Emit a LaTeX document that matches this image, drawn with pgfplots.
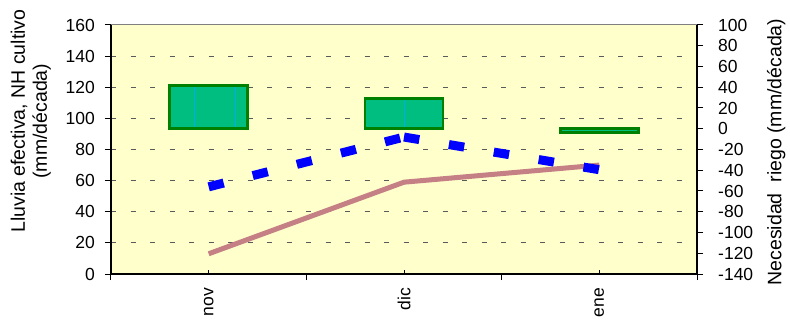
\documentclass[border=0pt]{standalone}
\usepackage{fontspec}
\setmainfont{Liberation Sans}
\usepackage{pgfplots}
\pgfplotsset{compat=1.18}
\definecolor{bgyellow}{RGB}{255,255,204}
\definecolor{barfill}{RGB}{0,190,128}
\definecolor{barborder}{RGB}{0,128,0}
\definecolor{rosy}{RGB}{196,128,132}
\definecolor{gridgray}{RGB}{90,90,90}
\newcommand{\fs}{\fontsize{17.5bp}{21.5bp}\selectfont}
\newcommand{\fl}{\fontsize{19.5bp}{22bp}\selectfont}
\begin{document}
\begin{tikzpicture}
\pgfplotsset{
  base/.style={scale only axis, width=586bp, height=249bp, xmin=-0.5, xmax=2.5,
    /pgf/number format/assume math mode=true,
    tick label style={font=\fs}, label style={font=\fl}},
}
% background, grid, frame
\begin{axis}[base, ymin=0, ymax=160, axis background/.style={fill=bgyellow},
  xtick=\empty, ytick={20,40,...,140}, yticklabels={}, major tick length=0pt,
  ymajorgrids, grid style={gridgray, line width=1.1bp, dash pattern=on 5bp off 14.5bp},
  axis line style={draw=gray, line width=1bp}]
\end{axis}
% right axis with bars
\begin{axis}[base, ymin=-140, ymax=100, axis y line*=right, axis x line=none,
  xtick=\empty, ytick={-140,-120,...,100}, tick align=outside, major tick length=6bp,
  axis line style={black, line width=1.2bp}, tick style={black, line width=1bp},
  yticklabel style={anchor=west, inner sep=0pt}, yticklabel shift=15bp,
  ylabel={Necesidad\ \ riego (mm/década)},
  ylabel style={at={(axis description cs:1.135,0.49)}, anchor=center}]
\addplot[ybar, bar width=0.4, fill=barfill, draw=none] coordinates {(0,42) (1,29) (2,-4)};
\addplot[cyan, line width=0.8bp] coordinates {(-0.075,0) (-0.075,42)};
\addplot[cyan, line width=0.8bp] coordinates {(0.135,0) (0.135,42)};
\addplot[cyan, line width=0.8bp] coordinates {(1,0) (1,29)};
\addplot[cyan, line width=0.8bp] coordinates {(1.865,0) (1.865,-4)};
\addplot[cyan, line width=0.8bp] coordinates {(2.075,0) (2.075,-4)};
\addplot[ybar, bar width=0.4, fill=none, draw=barborder, line width=2.8bp] coordinates {(0,42) (1,29) (2,-4)};
\end{axis}
% left axis with lines
\begin{axis}[base, ymin=0, ymax=160, axis y line*=left, axis x line*=bottom,
  ytick={0,20,...,160}, tick align=outside, major tick length=6bp,
  axis line style={black, line width=1.2bp}, tick style={black, line width=1bp},
  yticklabel style={inner sep=0pt}, yticklabel shift=10bp,
  xtick={-0.5,0.5,1.5,2.5}, xticklabels={},
  extra x ticks={0,1,2}, extra x tick labels={nov,dic,ene},
  extra x tick style={tick align=inside, major tick length=4bp,
    xticklabel style={rotate=90, anchor=east, inner sep=0pt}, xticklabel shift=14bp},
  ylabel={Lluvia efectiva, NH cultivo\\(mm/década)},
  ylabel style={align=center, inner sep=0pt, at={(axis description cs:-0.1024,0.614)}, anchor=south}]
\addplot[rosy, line width=5bp] coordinates {(0,13) (1,59) (2,70)};
\addplot[blue, line width=9bp, dash pattern=on 15.5bp off 30bp] coordinates {(0,56) (1,88)};
\addplot[blue, line width=9bp, dash pattern=on 15.5bp off 30bp] coordinates {(1,88) (2,67)};
\coordinate (SW) at (rel axis cs:0,0);
\coordinate (NE) at (rel axis cs:1,1);
\end{axis}
\pgfresetboundingbox
\path ([shift={(-111bp,-48bp)}]SW) rectangle ([shift={(93bp,25bp)}]NE);
\end{tikzpicture}
\end{document}
